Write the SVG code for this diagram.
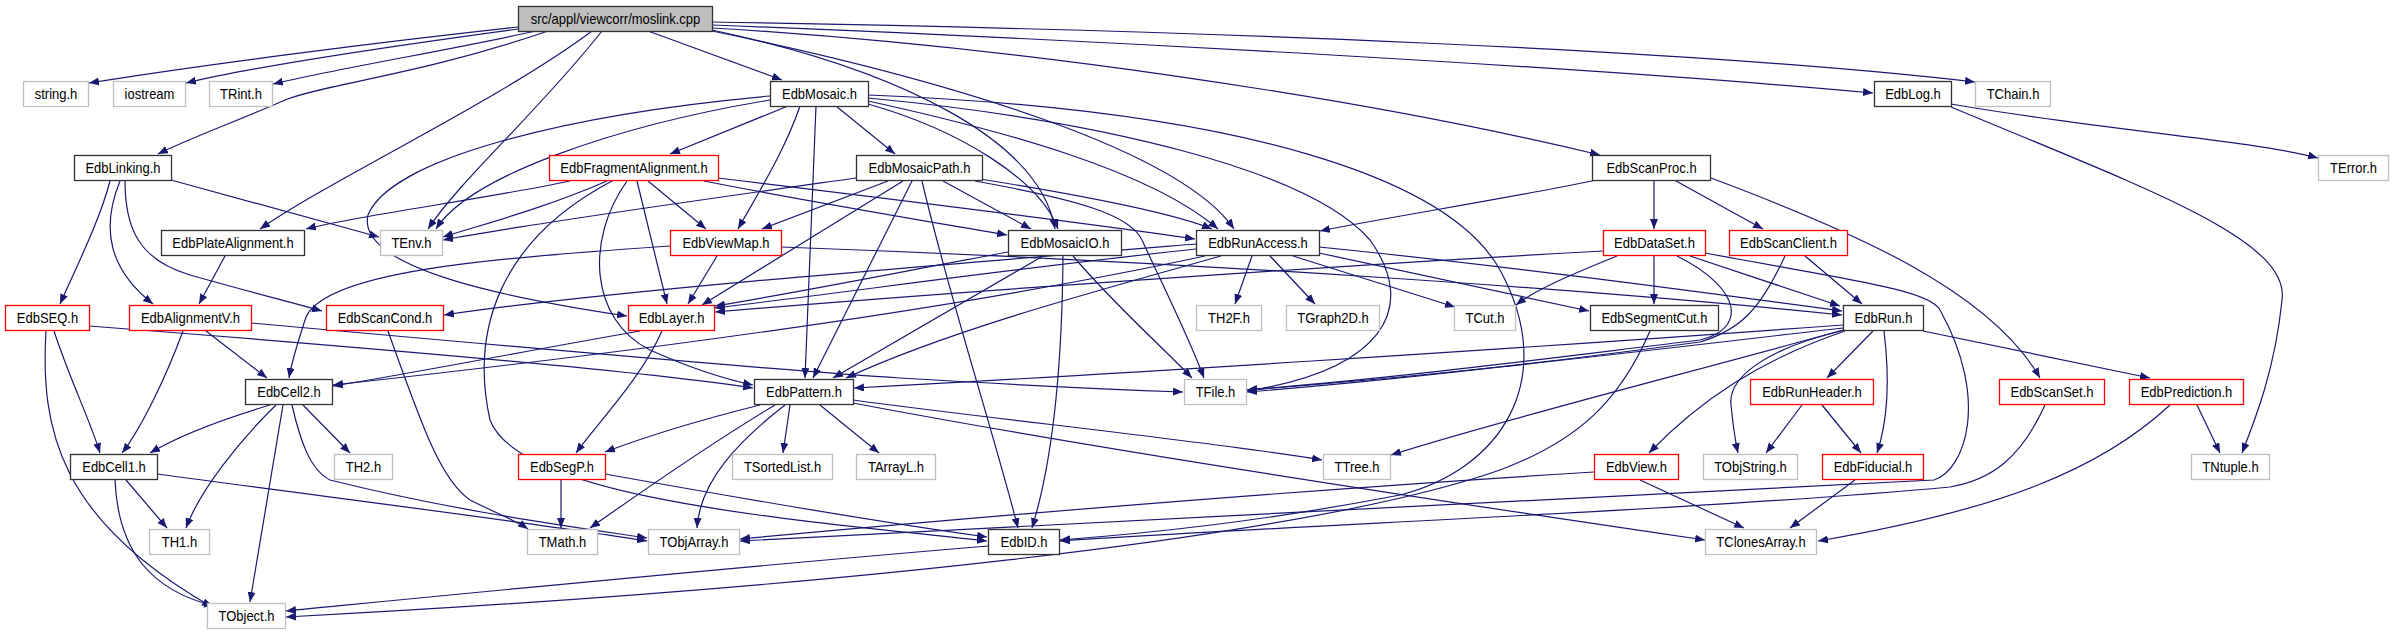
<svg xmlns="http://www.w3.org/2000/svg" width="2393" height="635" viewBox="0 0 2393 635">
<defs>
<marker id="a" markerUnits="userSpaceOnUse" markerWidth="11" markerHeight="9" refX="10" refY="4" orient="auto"><path d="M0,0 L10,4 L0,8 z" fill="#191970"/></marker>
<style>
.e path{fill:none;stroke:#191970;stroke-width:1.2;marker-end:url(#a)}
rect{fill:#fff;stroke-width:1.3}
.k rect{stroke:#333}
.r rect{stroke:#ff0000}
.g rect{stroke:#bfbfbf}
.root rect{fill:#bfbfbf;stroke:#333}
text{font-family:"Liberation Sans",Arial,sans-serif;font-size:14.6px;text-anchor:middle;fill:#000}
</style>
</defs>
<rect x="0" y="0" width="2393" height="635" fill="#fff" stroke="none"/>
<g class="e" id="edges">
<path d="M518,27 C380,42 200,65 89,83"/>
<path d="M518,29 C400,45 260,65 186,83"/>
<path d="M536,31 C450,50 340,68 273,84"/>
<path d="M548,31 C420,75 320,85 285,100 C240,120 190,138 158,154"/>
<path d="M592,31 C500,100 330,180 260,229"/>
<path d="M602,31 C540,110 460,180 428,229"/>
<path d="M648,31 L782,80"/>
<path d="M712,30 C900,70 1040,140 1055,229"/>
<path d="M712,31 C950,80 1180,150 1234,229"/>
<path d="M712,28 C1000,45 1350,95 1600,155"/>
<path d="M712,25 C1100,40 1600,68 1873,93"/>
<path d="M712,22 C1200,30 1700,50 1975,82"/>
<path d="M1951,104 C2100,130 2250,140 2318,158"/>
<path d="M1951,107 C2150,190 2290,240 2282,300 C2275,370 2255,420 2242,453"/>
<path d="M788,106 L670,154"/>
<path d="M770,100 C620,125 470,175 436,229"/>
<path d="M770,96 C560,115 390,160 368,215 C355,270 520,300 627,316"/>
<path d="M800,106 C785,150 760,190 738,229"/>
<path d="M816,106 L805,378"/>
<path d="M836,106 L895,154"/>
<path d="M868,104 C960,130 1040,180 1058,229"/>
<path d="M868,101 C1000,130 1150,170 1218,229"/>
<path d="M868,98 C1100,120 1310,170 1370,240 C1420,310 1380,370 1247,391"/>
<path d="M868,95 C1250,110 1450,180 1500,270 C1560,380 1500,470 1400,495 C1260,522 1150,533 1060,540"/>
<path d="M570,181 C480,200 360,215 306,229"/>
<path d="M607,181 C540,210 480,225 443,237"/>
<path d="M648,181 L706,229"/>
<path d="M637,181 L667,304"/>
<path d="M627,181 C585,240 590,320 650,350 C690,368 720,378 753,385"/>
<path d="M612,181 C500,240 470,330 490,420 C520,500 800,520 987,541"/>
<path d="M704,181 C800,200 920,220 1007,235"/>
<path d="M718,178 C900,200 1100,225 1195,239"/>
<path d="M856,178 C700,200 520,225 443,240"/>
<path d="M888,181 L762,229"/>
<path d="M903,181 L702,305"/>
<path d="M912,181 L813,378"/>
<path d="M922,181 C950,300 990,420 1018,528"/>
<path d="M943,181 L1031,229"/>
<path d="M980,179 C1080,195 1170,212 1212,229"/>
<path d="M975,181 C1080,200 1130,215 1142,240 C1165,290 1190,340 1204,378"/>
<path d="M1597,180 C1500,200 1400,215 1320,231"/>
<path d="M1654,181 L1654,229"/>
<path d="M1676,181 L1763,229"/>
<path d="M1711,178 C1850,230 1990,290 2040,378"/>
<path d="M1603,251 C1400,262 1000,288 715,312"/>
<path d="M1617,256 C1570,275 1535,290 1516,305"/>
<path d="M1654,256 L1654,304"/>
<path d="M1690,256 L1840,306"/>
<path d="M1677,256 C1745,290 1745,330 1700,340 C1550,358 1400,378 1247,390"/>
<path d="M1705,253 C1850,280 1930,290 1940,310 C1990,400 1965,470 1934,480 C1700,495 1100,520 740,541"/>
<path d="M1805,256 L1862,304"/>
<path d="M1785,256 C1760,310 1740,330 1700,342 C1550,362 1400,380 1247,392"/>
<path d="M1252,256 L1235,304"/>
<path d="M1270,256 L1315,304"/>
<path d="M1293,256 L1455,307"/>
<path d="M1319,253 L1589,311"/>
<path d="M1319,247 C1500,265 1700,292 1842,311"/>
<path d="M1196,249 C1000,270 850,292 715,308"/>
<path d="M1196,244 C900,268 600,292 444,315"/>
<path d="M1205,256 C1000,300 700,345 333,385"/>
<path d="M1221,256 C1100,290 950,330 846,378"/>
<path d="M1008,252 C900,272 800,292 715,306"/>
<path d="M1043,256 L833,378"/>
<path d="M1063,256 C1062,380 1050,470 1032,528"/>
<path d="M1073,256 C1110,300 1160,345 1192,378"/>
<path d="M717,256 L688,304"/>
<path d="M670,246 C500,258 320,270 305,320 C297,345 292,360 289,378"/>
<path d="M781,247 C1200,262 1600,290 1842,315"/>
<path d="M110,181 C100,220 75,270 60,304"/>
<path d="M120,181 C100,230 110,270 153,304"/>
<path d="M125,181 C125,230 140,260 190,275 C250,292 290,302 322,311"/>
<path d="M171,180 L379,237"/>
<path d="M225,256 L199,304"/>
<path d="M54,331 C70,380 90,420 100,453"/>
<path d="M46,331 C40,430 60,520 212,607"/>
<path d="M89,326 C400,350 650,372 753,388"/>
<path d="M206,331 L267,378"/>
<path d="M183,331 C165,380 140,430 122,453"/>
<path d="M251,323 C550,350 800,372 900,378 C1000,384 1100,389 1183,392"/>
<path d="M388,331 C420,420 440,480 470,500 C500,515 515,520 528,529"/>
<path d="M640,331 C520,352 420,372 333,386"/>
<path d="M662,331 C640,380 600,420 576,453"/>
<path d="M270,405 C220,420 180,435 150,453"/>
<path d="M276,405 C240,440 200,490 186,528"/>
<path d="M283,405 L250,602"/>
<path d="M303,405 L350,453"/>
<path d="M292,405 C300,440 310,470 330,480 C450,510 560,525 647,538"/>
<path d="M126,480 L167,528"/>
<path d="M115,480 C118,550 150,590 214,606"/>
<path d="M157,474 C350,500 550,525 647,541"/>
<path d="M760,405 C700,420 650,435 605,452"/>
<path d="M790,405 L783,453"/>
<path d="M820,405 L879,453"/>
<path d="M853,400 C1000,420 1200,440 1322,460"/>
<path d="M853,403 C1100,450 1500,510 1705,540"/>
<path d="M775,405 C700,450 630,500 590,528"/>
<path d="M785,405 C740,440 700,480 697,528"/>
<path d="M561,480 L561,528"/>
<path d="M605,474 C750,500 900,525 987,537"/>
<path d="M1873,331 L1827,378"/>
<path d="M1884,331 C1890,380 1888,420 1877,453"/>
<path d="M1845,331 C1760,360 1700,400 1649,453"/>
<path d="M1845,330 C1760,350 1728,380 1731,405 C1733,425 1735,440 1738,453"/>
<path d="M1923,331 L2150,378"/>
<path d="M1843,330 C1700,370 1500,420 1391,455"/>
<path d="M1843,328 C1650,350 1450,375 1247,390"/>
<path d="M1843,325 C1500,350 1100,375 854,388"/>
<path d="M1802,405 L1766,453"/>
<path d="M1822,405 L1861,453"/>
<path d="M1855,480 L1790,528"/>
<path d="M1640,480 L1744,528"/>
<path d="M1594,472 C1300,490 1000,515 740,539"/>
<path d="M2197,405 L2220,453"/>
<path d="M2170,405 C2100,470 2000,510 1818,541"/>
<path d="M2045,405 C2020,460 1990,480 1950,487 C1700,510 1300,525 1060,541"/>
<path d="M1650,331 C1620,400 1580,440 1500,470 C1300,540 800,590 286,617"/>
<path d="M988,546 C700,570 450,595 286,611"/>
</g>
<g id="root" class="root"><rect x="518.5" y="6.5" width="194" height="25"/><text transform="translate(615.5,24) scale(0.89,1)">src/appl/viewcorr/moslink.cpp</text></g>
<g id="string_h" class="g"><rect x="23.5" y="81.5" width="65" height="25"/><text transform="translate(56,99) scale(0.89,1)">string.h</text></g>
<g id="iostream" class="g"><rect x="113.5" y="81.5" width="72" height="25"/><text transform="translate(149.5,99) scale(0.89,1)">iostream</text></g>
<g id="TRint_h" class="g"><rect x="209.5" y="81.5" width="63" height="25"/><text transform="translate(241,99) scale(0.89,1)">TRint.h</text></g>
<g id="EdbMosaic_h" class="k"><rect x="770.5" y="81.5" width="98" height="25"/><text transform="translate(819.5,99) scale(0.89,1)">EdbMosaic.h</text></g>
<g id="EdbLog_h" class="k"><rect x="1874.5" y="81.5" width="77" height="25"/><text transform="translate(1913,99) scale(0.89,1)">EdbLog.h</text></g>
<g id="TChain_h" class="g"><rect x="1975.5" y="81.5" width="75" height="25"/><text transform="translate(2013,99) scale(0.89,1)">TChain.h</text></g>
<g id="EdbLinking_h" class="k"><rect x="74.5" y="155.5" width="97" height="25"/><text transform="translate(123,173) scale(0.89,1)">EdbLinking.h</text></g>
<g id="EdbFragmentAlignment_h" class="r"><rect x="549.5" y="155.5" width="169" height="25"/><text transform="translate(634,173) scale(0.89,1)">EdbFragmentAlignment.h</text></g>
<g id="EdbMosaicPath_h" class="k"><rect x="856.5" y="155.5" width="126" height="25"/><text transform="translate(919.5,173) scale(0.89,1)">EdbMosaicPath.h</text></g>
<g id="EdbScanProc_h" class="k"><rect x="1592.5" y="155.5" width="118" height="25"/><text transform="translate(1651.5,173) scale(0.89,1)">EdbScanProc.h</text></g>
<g id="TError_h" class="g"><rect x="2318.5" y="155.5" width="70" height="25"/><text transform="translate(2353.5,173) scale(0.89,1)">TError.h</text></g>
<g id="EdbPlateAlignment_h" class="k"><rect x="161.5" y="230.5" width="143" height="25"/><text transform="translate(233,248) scale(0.89,1)">EdbPlateAlignment.h</text></g>
<g id="TEnv_h" class="g"><rect x="380.5" y="230.5" width="62" height="25"/><text transform="translate(411.5,248) scale(0.89,1)">TEnv.h</text></g>
<g id="EdbViewMap_h" class="r"><rect x="670.5" y="230.5" width="111" height="25"/><text transform="translate(726,248) scale(0.89,1)">EdbViewMap.h</text></g>
<g id="EdbMosaicIO_h" class="k"><rect x="1008.5" y="230.5" width="113" height="25"/><text transform="translate(1065,248) scale(0.89,1)">EdbMosaicIO.h</text></g>
<g id="EdbRunAccess_h" class="k"><rect x="1196.5" y="230.5" width="123" height="25"/><text transform="translate(1258,248) scale(0.89,1)">EdbRunAccess.h</text></g>
<g id="EdbDataSet_h" class="r"><rect x="1603.5" y="230.5" width="102" height="25"/><text transform="translate(1654.5,248) scale(0.89,1)">EdbDataSet.h</text></g>
<g id="EdbScanClient_h" class="r"><rect x="1729.5" y="230.5" width="118" height="25"/><text transform="translate(1788.5,248) scale(0.89,1)">EdbScanClient.h</text></g>
<g id="EdbSEQ_h" class="r"><rect x="5.5" y="305.5" width="84" height="25"/><text transform="translate(47.5,323) scale(0.89,1)">EdbSEQ.h</text></g>
<g id="EdbAlignmentV_h" class="r"><rect x="129.5" y="305.5" width="122" height="25"/><text transform="translate(190.5,323) scale(0.89,1)">EdbAlignmentV.h</text></g>
<g id="EdbScanCond_h" class="r"><rect x="326.5" y="305.5" width="117" height="25"/><text transform="translate(385,323) scale(0.89,1)">EdbScanCond.h</text></g>
<g id="EdbLayer_h" class="r"><rect x="628.5" y="305.5" width="86" height="25"/><text transform="translate(671.5,323) scale(0.89,1)">EdbLayer.h</text></g>
<g id="TH2F_h" class="g"><rect x="1196.5" y="305.5" width="65" height="25"/><text transform="translate(1229,323) scale(0.89,1)">TH2F.h</text></g>
<g id="TGraph2D_h" class="g"><rect x="1286.5" y="305.5" width="93" height="25"/><text transform="translate(1333,323) scale(0.89,1)">TGraph2D.h</text></g>
<g id="TCut_h" class="g"><rect x="1454.5" y="305.5" width="61" height="25"/><text transform="translate(1485,323) scale(0.89,1)">TCut.h</text></g>
<g id="EdbSegmentCut_h" class="k"><rect x="1590.5" y="305.5" width="128" height="25"/><text transform="translate(1654.5,323) scale(0.89,1)">EdbSegmentCut.h</text></g>
<g id="EdbRun_h" class="k"><rect x="1843.5" y="305.5" width="80" height="25"/><text transform="translate(1883.5,323) scale(0.89,1)">EdbRun.h</text></g>
<g id="EdbCell2_h" class="k"><rect x="245.5" y="379.5" width="87" height="25"/><text transform="translate(289,397) scale(0.89,1)">EdbCell2.h</text></g>
<g id="EdbPattern_h" class="k"><rect x="754.5" y="379.5" width="99" height="25"/><text transform="translate(804,397) scale(0.89,1)">EdbPattern.h</text></g>
<g id="TFile_h" class="g"><rect x="1184.5" y="379.5" width="62" height="25"/><text transform="translate(1215.5,397) scale(0.89,1)">TFile.h</text></g>
<g id="EdbRunHeader_h" class="r"><rect x="1750.5" y="379.5" width="123" height="25"/><text transform="translate(1812,397) scale(0.89,1)">EdbRunHeader.h</text></g>
<g id="EdbScanSet_h" class="r"><rect x="1999.5" y="379.5" width="105" height="25"/><text transform="translate(2052,397) scale(0.89,1)">EdbScanSet.h</text></g>
<g id="EdbPrediction_h" class="r"><rect x="2129.5" y="379.5" width="114" height="25"/><text transform="translate(2186.5,397) scale(0.89,1)">EdbPrediction.h</text></g>
<g id="EdbCell1_h" class="k"><rect x="70.5" y="454.5" width="87" height="25"/><text transform="translate(114,472) scale(0.89,1)">EdbCell1.h</text></g>
<g id="TH2_h" class="g"><rect x="334.5" y="454.5" width="58" height="25"/><text transform="translate(363.5,472) scale(0.89,1)">TH2.h</text></g>
<g id="EdbSegP_h" class="r"><rect x="518.5" y="454.5" width="87" height="25"/><text transform="translate(562,472) scale(0.89,1)">EdbSegP.h</text></g>
<g id="TSortedList_h" class="g"><rect x="732.5" y="454.5" width="100" height="25"/><text transform="translate(782.5,472) scale(0.89,1)">TSortedList.h</text></g>
<g id="TArrayL_h" class="g"><rect x="856.5" y="454.5" width="79" height="25"/><text transform="translate(896,472) scale(0.89,1)">TArrayL.h</text></g>
<g id="TTree_h" class="g"><rect x="1323.5" y="454.5" width="67" height="25"/><text transform="translate(1357,472) scale(0.89,1)">TTree.h</text></g>
<g id="EdbView_h" class="r"><rect x="1594.5" y="454.5" width="84" height="25"/><text transform="translate(1636.5,472) scale(0.89,1)">EdbView.h</text></g>
<g id="TObjString_h" class="g"><rect x="1703.5" y="454.5" width="94" height="25"/><text transform="translate(1750.5,472) scale(0.89,1)">TObjString.h</text></g>
<g id="EdbFiducial_h" class="r"><rect x="1822.5" y="454.5" width="101" height="25"/><text transform="translate(1873,472) scale(0.89,1)">EdbFiducial.h</text></g>
<g id="TNtuple_h" class="g"><rect x="2191.5" y="454.5" width="78" height="25"/><text transform="translate(2230.5,472) scale(0.89,1)">TNtuple.h</text></g>
<g id="TH1_h" class="g"><rect x="149.5" y="529.5" width="60" height="25"/><text transform="translate(179.5,547) scale(0.89,1)">TH1.h</text></g>
<g id="TMath_h" class="g"><rect x="527.5" y="529.5" width="70" height="25"/><text transform="translate(562.5,547) scale(0.89,1)">TMath.h</text></g>
<g id="TObjArray_h" class="g"><rect x="648.5" y="529.5" width="91" height="25"/><text transform="translate(694,547) scale(0.89,1)">TObjArray.h</text></g>
<g id="EdbID_h" class="k"><rect x="988.5" y="529.5" width="71" height="25"/><text transform="translate(1024,547) scale(0.89,1)">EdbID.h</text></g>
<g id="TClonesArray_h" class="g"><rect x="1705.5" y="529.5" width="111" height="25"/><text transform="translate(1761,547) scale(0.89,1)">TClonesArray.h</text></g>
<g id="TObject_h" class="g"><rect x="207.5" y="603.5" width="78" height="25"/><text transform="translate(246.5,621) scale(0.89,1)">TObject.h</text></g>
</svg>
